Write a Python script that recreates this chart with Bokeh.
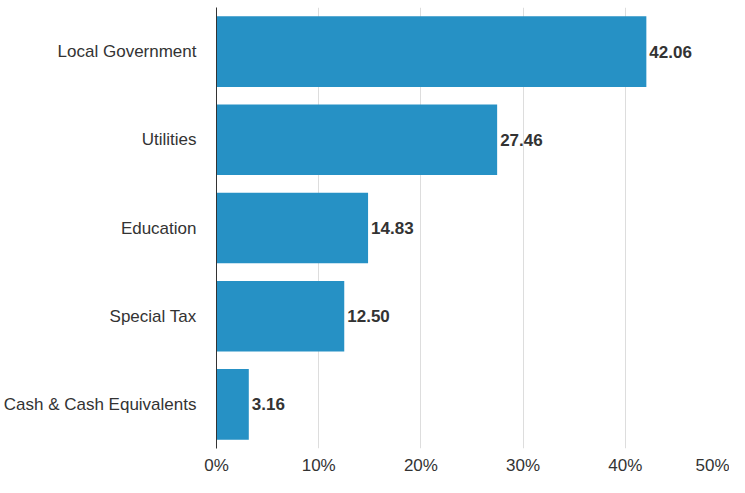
from bokeh.plotting import figure
from bokeh.models import ColumnDataSource, Range1d, FixedTicker, CustomJSTickFormatter
from bokeh.core.properties import value
from bokeh.embed import file_html
from bokeh.resources import INLINE

categories = ["Local Government", "Utilities", "Education", "Special Tax", "Cash & Cash Equivalents"]
values = [42.06, 27.46, 14.83, 12.50, 3.16]
labels = ["42.06", "27.46", "14.83", "12.50", "3.16"]
ticks = [0, 10, 20, 30, 40, 50]

FONT = "Liberation Sans"
TXT = "#333333"

src = ColumnDataSource(dict(cat=categories, val=values, lab=labels))

p = figure(width=729, height=477, y_range=list(reversed(categories)),
           x_range=Range1d(0, 50), output_backend="svg", toolbar_location=None,
           min_border_left=216, min_border_right=2, min_border_top=7, min_border_bottom=25)
p.hbar(y="cat", right="val", height=0.8, source=src, color="#2691c5", line_color=None)
p.text(x="val", y="cat", text="lab", source=src, x_offset=3, text_baseline="middle",
       text_align="left", text_font=value(FONT), text_font_style="bold",
       text_font_size="17px", text_color=TXT)

p.outline_line_color = None
p.ygrid.grid_line_color = None
p.xgrid.grid_line_color = "#dddddd"
p.xgrid.ticker = FixedTicker(ticks=ticks)
p.xaxis.ticker = FixedTicker(ticks=ticks)
p.xaxis.formatter = CustomJSTickFormatter(code="return tick + '%';")
p.xaxis.axis_line_color = None
p.xaxis.major_tick_line_color = None
p.xaxis.minor_tick_line_color = None
p.xaxis.major_tick_out = 0
p.xaxis.major_label_text_font = FONT
p.xaxis.major_label_text_font_size = "17px"
p.xaxis.major_label_text_color = TXT
p.xaxis.major_label_standoff = 7

p.yaxis.axis_line_color = "#333333"
p.yaxis.axis_line_width = 1
p.yaxis.major_tick_line_color = None
p.yaxis.minor_tick_line_color = None
p.yaxis.major_tick_out = 0
p.yaxis.major_label_text_font = FONT
p.yaxis.major_label_text_font_size = "17px"
p.yaxis.major_label_text_color = TXT
p.yaxis.major_label_standoff = 20

open("out.html", "w").write(file_html(p, INLINE))
